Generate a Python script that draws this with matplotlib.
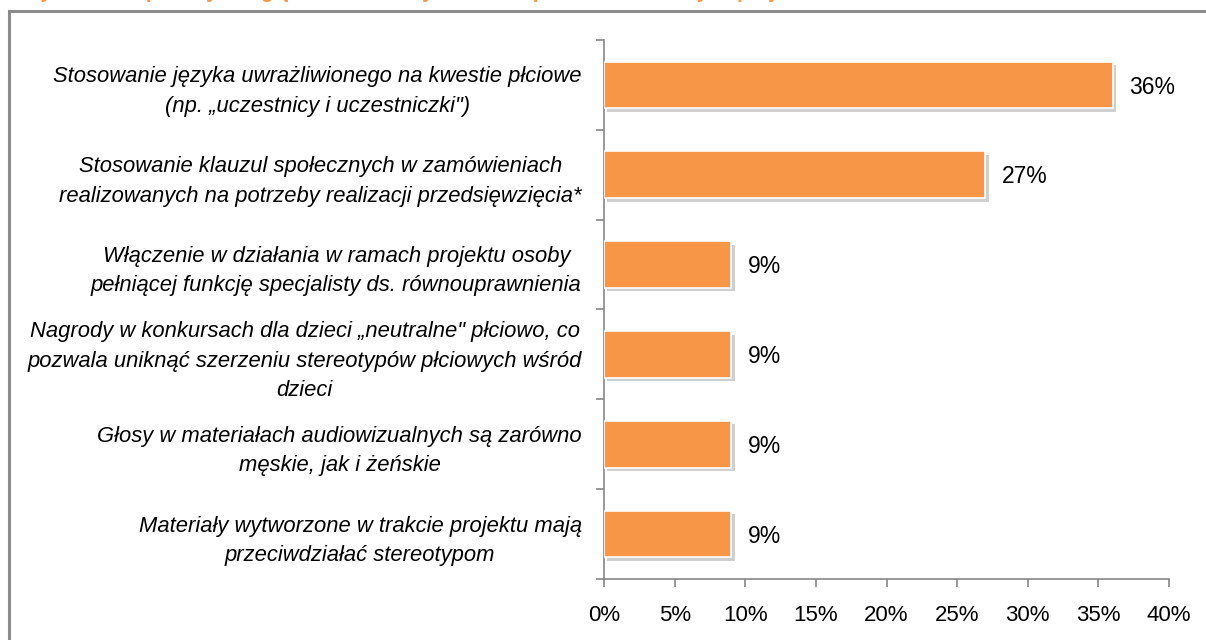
import matplotlib.pyplot as plt
from matplotlib import patheffects
from matplotlib.patches import Rectangle

plt.rcParams['font.family'] = ['Liberation Sans', 'DejaVu Sans']

# data
categories = [
    "Stosowanie języka uwrażliwionego na kwestie płciowe\n(np. „uczestnicy i uczestniczki\")",
    "Stosowanie klauzul społecznych w zamówieniach\nrealizowanych na potrzeby realizacji przedsięwzięcia*",
    "Włączenie w działania w ramach projektu osoby\npełniącej funkcję specjalisty ds. równouprawnienia",
    "Nagrody w konkursach dla dzieci „neutralne\" płciowo, co\npozwala uniknąć szerzeniu stereotypów płciowych wśród\ndzieci",
    "Głosy w materiałach audiowizualnych są zarówno\nmęskie, jak i żeńskie",
    "Materiały wytworzone w trakcie projektu mają\nprzeciwdziałać stereotypom",
]
values = [36, 27, 9, 9, 9, 9]
value_labels = ["36%", "27%", "9%", "9%", "9%", "9%"]
xticks = [0, 5, 10, 15, 20, 25, 30, 35, 40]
xtick_labels = ["0%", "5%", "10%", "15%", "20%", "25%", "30%", "35%", "40%"]
title = "Wykres 12. Sposoby uwzględnienia zasady równości płci w realizowanych projektach"

ORANGE = "#F79646"
GRAY = "#868686"

fig = plt.figure(figsize=(12.06, 6.4), dpi=100)

# outer frame (right and bottom run off the picture)
fig.patches.append(Rectangle((9 / 1206, -0.1), 1.2, 1 - 11 / 640 + 0.1,
                             transform=fig.transFigure, fill=False,
                             edgecolor="#8c8c8c", linewidth=2.2))
# title, mostly cut off at the top
fig.text(22 / 1206, 1 + 2.5 / 640, title, color=ORANGE, fontsize=14.5,
         fontweight="bold", va="baseline", ha="left")

ax = fig.add_axes([604 / 1206, 1 - 579 / 640, 565 / 1206, 539 / 640])

ypos = list(range(len(categories)))
bars = ax.barh(ypos, values, height=0.52, color=ORANGE, edgecolor="white",
               linewidth=1.2, zorder=3)
for b in bars:
    b.set_path_effects([patheffects.SimplePatchShadow(offset=(2.5, -2.5),
                                                      shadow_rgbFace="#b0b0b0", alpha=0.6),
                        patheffects.Normal()])

for y, v, lab in zip(ypos, values, value_labels):
    ax.annotate(lab, (v, y), xytext=(12, -1.5), textcoords="offset points",
                va="center", ha="left", fontsize=16.5, color="black")

ax.set_xlim(0, 40)
ax.set_ylim(len(categories) - 0.5, -0.5)

ax.set_xticks(xticks)
ax.set_xticklabels(xtick_labels, fontsize=16)
ax.tick_params(axis="x", length=6, width=1.2, color=GRAY, pad=13)

# band borders as major ticks, labels as minor ticks
ax.set_yticks([i - 0.5 for i in range(len(categories) + 1)])
ax.set_yticklabels([])
ax.tick_params(axis="y", which="major", length=6, width=1.2, color=GRAY)
ax.set_yticks(ypos, minor=True)
ax.set_yticklabels(categories, minor=True, fontsize=15.8, style="italic",
                   multialignment="center", linespacing=1.52)
ax.tick_params(axis="y", which="minor", length=0, pad=16)

for s in ["top", "right"]:
    ax.spines[s].set_visible(False)
for s in ["left", "bottom"]:
    ax.spines[s].set_color(GRAY)
    ax.spines[s].set_linewidth(1.2)

fig.savefig("out.png", dpi=100)
